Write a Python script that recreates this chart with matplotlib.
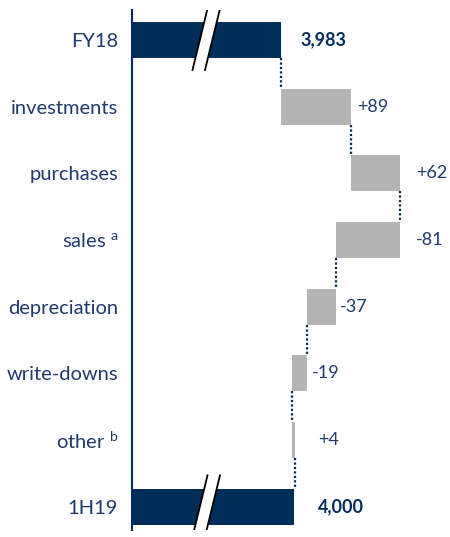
import matplotlib
matplotlib.use("Agg")
import matplotlib.pyplot as plt
from matplotlib.patches import Polygon

plt.rcParams['font.family'] = ['Lato', 'DejaVu Sans']
plt.rcParams['mathtext.fontset'] = 'custom'
plt.rcParams['mathtext.rm'] = 'Lato'
plt.rcParams['mathtext.it'] = 'Lato'

categories = ["FY18", "investments", "purchases", "sales $^{\\mathrm{a}}$",
              "depreciation", "write-downs", "other $^{\\mathrm{b}}$", "1H19"]
start_total = 3983
changes = [89, 62, -81, -37, -19, 4]
end_total = 4000
change_labels = ["+89", "+62", "-81", "-37", "-19", "+4"]
total_labels = ["3,983", "4,000"]

NAVY = "#002D5A"
TEXT = "#1F3A6B"
GREY = "#B4B4B4"

fig = plt.figure(figsize=(4.5, 5.37), dpi=100)
ax_left, ax_right = 132, 450
ax = fig.add_axes([ax_left/450, 1-530/537, (ax_right-ax_left)/450, 520/537])
x0, x1 = 3794, 4198
ax.set_xlim(x0, x1)
ax.set_ylim(7.35, -0.45)
px = (x1 - x0) / float(ax_right - ax_left)

h = 0.54
# totals
ax.barh(0, start_total - x0, left=x0, height=h, color=NAVY, zorder=2)
ax.barh(7, end_total - x0, left=x0, height=h, color=NAVY, zorder=2)

running = start_total
ends = [start_total]
for i, c in enumerate(changes):
    ax.barh(i + 1, c, left=running, height=h, color=GREY, zorder=2)
    running += c
    ends.append(running)

# connectors
for i in range(7):
    xv = ends[i]
    ax.plot([xv, xv], [i + h/2, i + 1 - h/2], color=NAVY, lw=1.6,
            linestyle=(0, (1, 1)), zorder=1)

# value labels
label_off = [20, 6, 17, 16, 4, 5, 23, 24]
ax.text(start_total + label_off[0]*px, 0, total_labels[0], va='center', ha='left',
        fontsize=13, fontweight='bold', color=NAVY)
running = start_total
for i, c in enumerate(changes):
    right = max(running, running + c)
    ax.text(right + label_off[i+1]*px, i + 1, change_labels[i], va='center', ha='left',
            fontsize=13, color=TEXT)
    running += c
ax.text(end_total + label_off[7]*px, 7, total_labels[1], va='center', ha='left',
        fontsize=13, fontweight='bold', color=NAVY)

# axis break marks
for row in (0, 7):
    bx = x0 + 68*px
    dx_top, dx_bot = 7.5*px, -7.5*px
    gap = 12.5*px
    yt, yb = row - 0.47, row + 0.45
    poly = Polygon([[bx + dx_top, yt], [bx + dx_top + gap, yt],
                    [bx + dx_bot + gap, yb], [bx + dx_bot, yb]],
                   closed=True, facecolor='white', edgecolor='none', zorder=3)
    ax.add_patch(poly)
    ax.plot([bx + dx_top, bx + dx_bot], [yt, yb], color='black', lw=1.3, zorder=4)
    ax.plot([bx + dx_top + gap, bx + dx_bot + gap], [yt, yb], color='black', lw=1.3, zorder=4)

ax.set_yticks(range(8))
ax.set_yticklabels(categories, fontsize=14.5, color=TEXT)
ax.tick_params(axis='y', length=0, pad=10)
ax.set_xticks([])
for s in ['top', 'right', 'bottom']:
    ax.spines[s].set_visible(False)
ax.spines['left'].set_color(NAVY)
ax.spines['left'].set_linewidth(1.5)

fig.savefig("out.png", dpi=100)
